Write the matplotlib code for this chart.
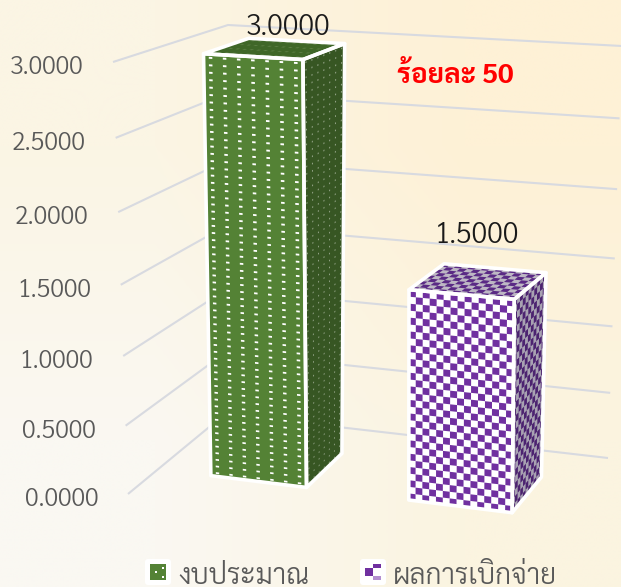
import numpy as np
import matplotlib
matplotlib.use("Agg")  # Use a non-GUI backend
import matplotlib.pyplot as plt
from matplotlib.collections import PolyCollection
from matplotlib.patches import FancyBboxPatch, Polygon

categories = ["งบประมาณ", "ผลการเบิกจ่าย"]
values = [3.0, 1.5]
y_ticks = [0.0, 0.5, 1.0, 1.5, 2.0, 2.5, 3.0]
note = "ร้อยละ 50"

FONT = "Sarabun"
Y_MAX = 3.0
N_CAT = 2

# pixel positions of the 3d box corners, key is (x end, value end, depth end)
BOX = {
    (0, 0, 0): (128, 494), (0, 1, 0): (113, 62),
    (0, 0, 1): (225, 414), (0, 1, 1): (228, 25),
    (1, 0, 0): (540, 546), (1, 1, 0): (543, 88),
    (1, 0, 1): (608, 458), (1, 1, 1): (622, 46),
}
BAR_X = (0.28, 0.773)
BAR_Z = (0.31, 0.72)


def persp(s, r):
    return s / (s + (1 - s) * r)


def project(x, v, z):
    # trilinear map with slight foreshortening along x and the value axis
    u = persp(x / N_CAT, 1.08)
    t = persp(v / Y_MAX, 1.065)
    out = np.zeros(2)
    for (a, b, c), p in BOX.items():
        w = (u if a else 1 - u) * (t if b else 1 - t) * (z if c else 1 - z)
        out += w * np.array(p, dtype=float)
    return out


def front_pt(x0, x1, z):
    return lambda a, b: project(x0 + a * (x1 - x0), b, z)


def side_pt(x, z0, z1):
    return lambda a, b: project(x, b, z0 + a * (z1 - z0))


def top_pt(x0, x1, z0, z1, v):
    return lambda a, b: project(x0 + a * (x1 - x0), v, z0 + b * (z1 - z0))


def quad(pt, a0, a1, b0, b1):
    return [pt(a0, b0), pt(a1, b0), pt(a1, b1), pt(a0, b1)]


def checker(ax, pt, b_max, n_a, n_b, color, z):
    polys = []
    da = 1 / n_a
    db = b_max / n_b
    for i in range(n_a):
        for j in range(n_b):
            if (i + j) % 2 == 0:
                polys.append(quad(pt, i * da, (i + 1) * da, j * db, (j + 1) * db))
    ax.add_collection(PolyCollection(polys, facecolors=color, edgecolors="none", zorder=z))


def dots(ax, pt, b_max, n_a, n_b, color, size_a, size_b, z):
    polys = []
    da = 1 / n_a
    db = b_max / n_b
    for i in range(n_a):
        for j in range(n_b):
            a = (i + 0.5) * da
            b = (j + 0.5) * db
            polys.append(quad(pt, a - size_a / 2, a + size_a / 2, b - size_b / 2, b + size_b / 2))
    ax.add_collection(PolyCollection(polys, facecolors=color, edgecolors="none", zorder=z))


fig = plt.figure(figsize=(6.21, 5.87), dpi=100)
ax = fig.add_axes([0, 0, 1, 1])
ax.set_xlim(0, 621)
ax.set_ylim(587, 0)
ax.axis("off")

# background gradient, corners
corners = np.array([[[251, 245, 228], [254, 241, 214]],
                    [[250, 248, 242], [251, 244, 224]]], dtype=float) / 255
ax.imshow(corners, extent=(0, 621, 587, 0), interpolation="bilinear", aspect="auto", zorder=0)
ax.set_xlim(0, 621)
ax.set_ylim(587, 0)

# grid lines on the two walls
for t in y_ticks:
    pts = np.array([project(0, t, 0), project(0, t, 1), project(N_CAT, t, 1)])
    ax.plot(pts[:, 0], pts[:, 1], color="#d8dae0", lw=1.5, zorder=1, solid_capstyle="butt")
    ax.text(pts[0, 0] - 30, pts[0, 1] + 12, f"{t:.4f}", ha="right", va="baseline",
            family=FONT, weight=300, fontsize=18, color="#595959", zorder=6)

# bars
for k, val in enumerate(values):
    x0, x1 = k + BAR_X[0], k + BAR_X[1]
    z0, z1 = BAR_Z
    front = front_pt(x0, x1, z0)
    side = side_pt(x1, z0, z1)
    top = top_pt(x0, x1, z0, z1, val)

    if k == 0:
        base = ("#548235", "#375623", "#3f6728")
    else:
        base = ("#ffffff", "#a8a2b2", "#bdb7c4")
    ax.add_patch(Polygon(quad(front, 0, 1, 0, val), fc=base[0], ec="none", zorder=2))
    ax.add_patch(Polygon(quad(side, 0, 1, 0, val), fc=base[1], ec="none", zorder=2))
    ax.add_patch(Polygon(quad(top, 0, 1, 0, 1), fc=base[2], ec="none", zorder=2))

    if k == 0:
        dots(ax, front, val, 7, 60, "#ffffff", 0.036, 0.013, 3)
        dots(ax, side, val, 7, 60, "#96a68a", 0.025, 0.011, 3)
        dots(ax, top, 1, 14, 4, "#5f8148", 0.03, 0.05, 3)
    else:
        checker(ax, front, val, 15, 31, "#7030a0", 3)
        checker(ax, side, val, 11, 31, "#4c2370", 3)
        checker(ax, top, 1, 15, 9, "#5a2a85", 3)

    for q in (quad(front, 0, 1, 0, val), quad(side, 0, 1, 0, val), quad(top, 0, 1, 0, 1)):
        ax.add_patch(Polygon(q, fc="none", ec="#ffffff", lw=2.6, joinstyle="round", zorder=4))

# data labels
label_pos = [(288, 35), (477, 243)]
for val, (lx, ly) in zip(values, label_pos):
    ax.text(lx, ly, f"{val:.4f}", ha="center", va="baseline", family=FONT, weight=300,
            fontsize=20.5, color="#1a1a1a", zorder=6)

ax.text(455, 83, note, ha="center", va="baseline", family=FONT, weight="bold",
        fontsize=20, color="#ff0000", zorder=6)

# legend
key_x = [145, 360]
text_x = [178, 393]
for k, name in enumerate(categories):
    kx = key_x[k]
    ax.add_patch(FancyBboxPatch((kx + 2, 561), 22, 22, boxstyle="round,pad=2,rounding_size=3",
                                fc="#ffffff", ec="none", zorder=5))
    if k == 0:
        ax.add_patch(Polygon([(kx + 5, 564), (kx + 21, 564), (kx + 21, 580), (kx + 5, 580)],
                             fc="#548235", ec="none", zorder=6))
        for dx, dy in [(18, 4), (11, 8), (18, 13)]:
            ax.plot(kx + dx, 564 + dy, marker="s", ms=1.8, color="#ffffff", mew=0, zorder=7)
    else:
        for bx, by, bw, bh, col in [(5, 4, 8, 8, "#7030a0"), (13, 0, 8, 4, "#7030a0"),
                                    (13, 12, 8, 4, "#b48fd0")]:
            ax.add_patch(Polygon([(kx + bx, 564 + by), (kx + bx + bw, 564 + by),
                                  (kx + bx + bw, 564 + by + bh), (kx + bx, 564 + by + bh)],
                                 fc=col, ec="none", zorder=6))
    ax.text(text_x[k], 584, name, ha="left", va="baseline", family=FONT, weight=300,
            fontsize=20.4, color="#595959", zorder=6)

fig.savefig("out.png", dpi=100)
